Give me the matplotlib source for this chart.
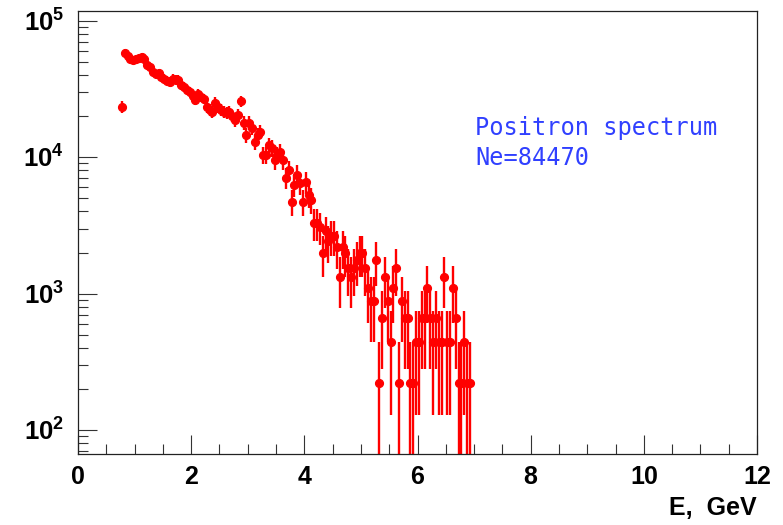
import numpy as np
import matplotlib
matplotlib.use('Agg')
import matplotlib.pyplot as plt
from matplotlib.ticker import MultipleLocator, LogLocator, FixedLocator, NullFormatter

# histogram: 0.05 GeV bins starting at 0.75 GeV
bin_lo = 0.75
bin_width = 0.05
counts = [
    23400, 58300, 55400, 52700, 51800, 52700, 53600, 54500, 52700, 47600,
    46000, 42300, 40900, 41600, 38900, 37600, 36400, 35700, 37600, 37000,
    37000, 34000, 32800, 31200, 30200, 28200, 26400, 29200, 27700, 26800,
    23400, 22300, 21500, 25100, 23400, 22300, 21500, 21200, 21500, 20100,
    18800, 20500, 25900, 17900, 14600, 17900, 16400, 12970, 14600, 15400,
    10400, 10400, 12300, 11700, 9570, 10400, 10950, 9570, 7060, 8080,
    4710, 6270, 7430, 6480, 4710, 6590, 5300, 4870, 3300, 3300,
    3080, 1980, 2860, 2420, 2640, 2640, 2200, 1320, 2200, 1980,
    1540, 1320, 1540, 1760, 1980, 1980, 1540, 1100, 880, 880,
    1760, 220, 660, 1320, 880, 440, 1100, 1540, 220, 880,
    660, 660, 220, 220, 440, 440, 660, 660, 1100, 660,
    440, 660, 440, 440, 1320, 440, 440, 1100, 660, 220,
    220, 440, 220, 220,
]
event_weight = 220  # one event in the tail
x_ticks = [0, 2, 4, 6, 8, 10, 12]
y_ticks = [1e2, 1e3, 1e4, 1e5]
y_ticklabels = [r'$\mathbf{10^{2}}$', r'$\mathbf{10^{3}}$', r'$\mathbf{10^{4}}$', r'$\mathbf{10^{5}}$']
title_lines = ['Positron spectrum', 'Ne=84470']

plt.rcParams['mathtext.fontset'] = 'custom'
plt.rcParams['mathtext.rm'] = 'Liberation Sans'
plt.rcParams['mathtext.bf'] = 'Liberation Sans:bold'

counts = np.array(counts, dtype=float)
edges = bin_lo + bin_width * np.arange(len(counts) + 1)
centers = 0.5 * (edges[:-1] + edges[1:])
err = np.sqrt(counts * event_weight)
err_lo = np.minimum(err, counts - 1e-3)

fig = plt.figure(figsize=(7.83, 5.25), dpi=100)
ax = fig.add_axes([78 / 783, 1 - 454 / 525, 679 / 783, 443 / 525])

ax.errorbar(centers, counts, yerr=[err_lo, err], xerr=bin_width / 2,
            fmt='o', color='#ff0000', ms=5.6, elinewidth=1.7, capsize=0,
            mec='#ff0000', mfc='#ff0000')

ax.set_yscale('log')
ax.set_xlim(0, 12)
ax.set_ylim(66.7, 1.18e5)

ax.xaxis.set_major_locator(FixedLocator(x_ticks))
ax.xaxis.set_minor_locator(MultipleLocator(0.5))
ax.set_xticklabels([str(t) for t in x_ticks], fontsize=18, fontweight='bold',
                   family='Liberation Sans')
ax.yaxis.set_major_locator(FixedLocator(y_ticks))
ax.yaxis.set_minor_locator(LogLocator(base=10, subs=np.arange(2, 10)))
ax.yaxis.set_minor_formatter(NullFormatter())
ax.set_yticklabels(y_ticklabels, fontsize=18.5)

ax.tick_params(which='both', direction='in', top=False, right=False, color='#333333')
ax.tick_params(which='major', length=14, width=0.8, pad=8)
ax.tick_params(which='minor', length=7, width=0.8)
ax.tick_params(axis='y', which='major', pad=10)
for s in ax.spines.values():
    s.set_linewidth(0.9)
    s.set_color('#222222')

ax.text(1.0, -0.122, 'E,  GeV', transform=ax.transAxes, ha='right', va='center',
        fontsize=18, fontweight='bold', family='Liberation Sans')

ax.text(0.585, 0.736, title_lines[0], transform=ax.transAxes, ha='left', va='center',
        fontsize=17, color='#3040ff', family='DejaVu Sans Mono')
ax.text(0.585, 0.668, title_lines[1], transform=ax.transAxes, ha='left', va='center',
        fontsize=17, color='#3040ff', family='DejaVu Sans Mono')

fig.savefig('out.png', dpi=100)
